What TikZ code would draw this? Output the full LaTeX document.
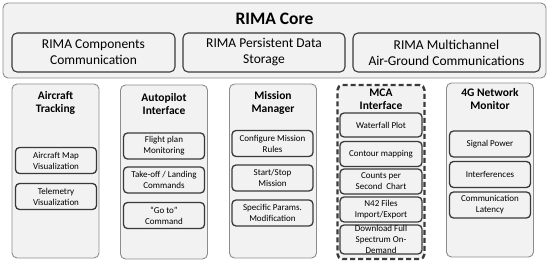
\documentclass[tikz,border=0pt]{standalone}
\usepackage{fontspec}
\setmainfont{Carlito}
\usepackage{xcolor}
\usepackage{tikz}
\definecolor{boxfill}{HTML}{F2F2F2}
\definecolor{boxline}{HTML}{8C8C8C}
\definecolor{darkline}{HTML}{3A3A3A}

\begin{document}
\begin{tikzpicture}[x=1pt,y=-1pt,
col/.style={draw=boxline,fill=boxfill,rounded corners=5pt,line width=0.9pt,minimum width=87pt,minimum height=174pt},
mca/.style={draw=darkline,fill=boxfill,rounded corners=5pt,line width=2.4pt,dash pattern=on 5pt off 3pt,minimum width=87pt,minimum height=174pt},
ttl/.style={font=\fontsize{11.5}{13}\selectfont\bfseries,align=center},
sub/.style={draw=darkline,fill=boxfill,rounded corners=4pt,line width=1.3pt,minimum width=81pt,minimum height=26pt,inner sep=1pt,align=center,font=\fontsize{9}{11}\selectfont},
core/.style={draw=darkline,fill=boxfill,rounded corners=5pt,line width=1.1pt,minimum height=39pt,inner sep=1pt,align=center,font=\fontsize{13.5}{16}\selectfont}]
\useasboundingbox (0,0) rectangle (550,267);
% core
\node[draw=boxline,fill=boxfill,rounded corners=5pt,line width=0.9pt,minimum width=543pt,minimum height=75pt](rima) at (274.5,40.5){};
\node[font=\fontsize{17.5}{20}\selectfont\bfseries](rimattl) at (274.5,19){RIMA Core};
\node[core,minimum width=163pt](comm) at (93.5,52.5){RIMA Components\\Communication};
\node[core,minimum width=162pt](store) at (264,52.5){RIMA Persistent Data\\Storage};
\node[core,minimum width=187pt](multi) at (446.5,52.5){RIMA Multichannel\\Air-Ground Communications};
% columns
\node[col](trk) at (55.5,171){};
\node[col](auto) at (164,172){};
\node[col](mission) at (273,171){};
\node[mca](mcai) at (381,172){};
\node[col](net) at (490,170){};
% aircraft tracking
\node[ttl](trkttl) at (55.5,103){Aircraft\\Tracking};
\node[sub](map) at (56,160.5){Aircraft Map\\Visualization};
\node[sub](tele) at (56,196.5){Telemetry\\Visualization};
% autopilot
\node[ttl](autottl) at (164,104.5){Autopilot\\Interface};
\node[sub](plan) at (164,146){Flight plan\\Monitoring};
\node[sub](takeoff) at (164,180){Take-off / Landing\\Commands};
\node[sub](goto) at (164,215.5){“Go to”\\Command};
% mission manager
\node[ttl](missionttl) at (273,102.5){Mission\\Manager};
\node[sub](rules) at (272.5,143.5){Configure Mission\\Rules};
\node[sub](startstop) at (272.5,178){Start/Stop\\Mission};
\node[sub](params) at (272.5,213){Specific Params.\\Modification};
% mca
\node[ttl](mcattl) at (381,99.5){MCA\\Interface};
\node[sub,minimum width=82pt,minimum height=24pt](water) at (381,125){Waterfall Plot};
\node[sub,minimum width=82pt,minimum height=25pt](contour) at (381,154){Contour mapping};
\node[sub,minimum width=82pt,minimum height=25pt](cps) at (381,181.5){Counts per\\Second\ \ Chart};
\node[sub,minimum width=82pt,minimum height=25pt](n42) at (381,209.5){N42 Files\\Import/Export};
\node[sub,minimum width=82pt,minimum height=29pt,inner sep=0pt](spectrum) at (381,239.5){Download Full\\Spectrum On-\\Demand};
% 4g
\node[ttl](netttl) at (490,99){4G Network\\Monitor};
\node[sub](signal) at (490,144){Signal Power};
\node[sub](interf) at (490,174.5){Interferences};
\node[sub](latency) at (490,205){Communication\\Latency};
\end{tikzpicture}
\end{document}
